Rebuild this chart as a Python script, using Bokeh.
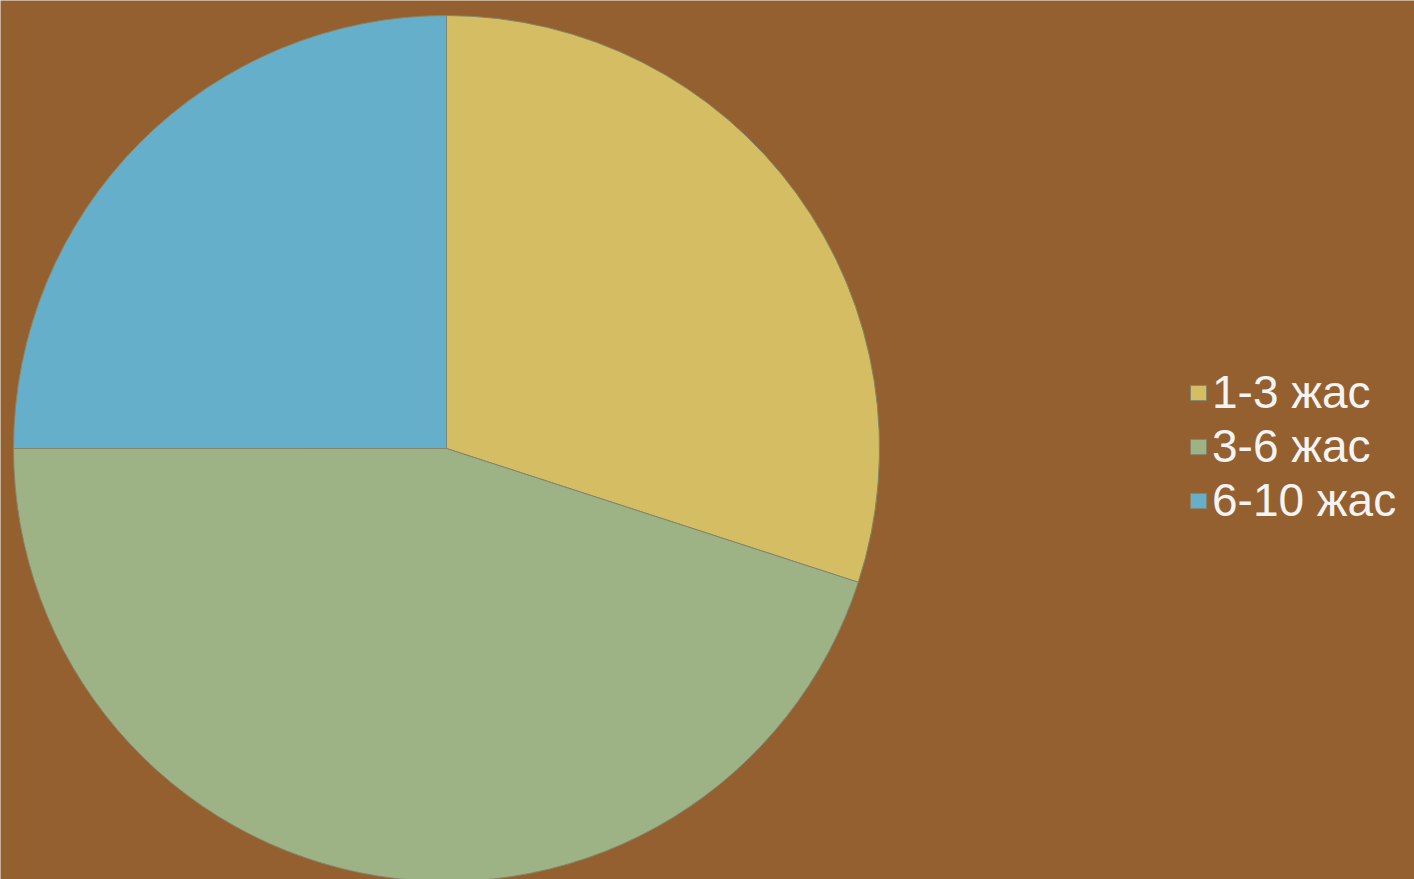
import math
from bokeh.plotting import figure
from bokeh.models import ColumnDataSource, Legend, LegendItem
from bokeh.embed import file_html
from bokeh.resources import INLINE

categories = ["1-3 жас", "3-6 жас", "6-10 жас"]
values = [30, 45, 25]
colors = ["#d4bd63", "#9db385", "#66afcb"]

W, H = 1414, 879
total = float(sum(values))
starts, ends = [], []
acc = 0.0
for v in values:
    starts.append(math.pi / 2 - 2 * math.pi * acc / total)
    acc += v
    ends.append(math.pi / 2 - 2 * math.pi * acc / total)

src = ColumnDataSource(dict(cat=categories, val=values, color=colors,
                            start=starts, end=ends))

p = figure(width=W, height=H, x_range=(0, W), y_range=(0, H),
           x_axis_type=None, y_axis_type=None, toolbar_location=None,
           output_backend="svg", min_border=0)
p.grid.visible = False
p.outline_line_color = None
p.background_fill_color = "#94602f"
p.border_fill_color = "#94602f"

cx, cy, r = 446, H - 448, 433
r_wedge = p.wedge(x=cx, y=cy, radius=r, start_angle="start", end_angle="end",
                  direction="clock", fill_color="color", line_color="#85856a",
                  line_width=1, source=src)

items = [LegendItem(label=c, renderers=[r_wedge], index=i) for i, c in enumerate(categories)]
legend = Legend(items=items, location=(1188, 352), orientation="vertical",
                background_fill_alpha=0, border_line_color=None,
                label_text_font="Liberation Sans", label_text_font_size="46px",
                label_text_color="#f4f4f4", glyph_width=20, glyph_height=19,
                label_standoff=4, label_height=54, spacing=0, padding=0, margin=0)
p.add_layout(legend)

open("out.html", "w").write(file_html(p, INLINE))
